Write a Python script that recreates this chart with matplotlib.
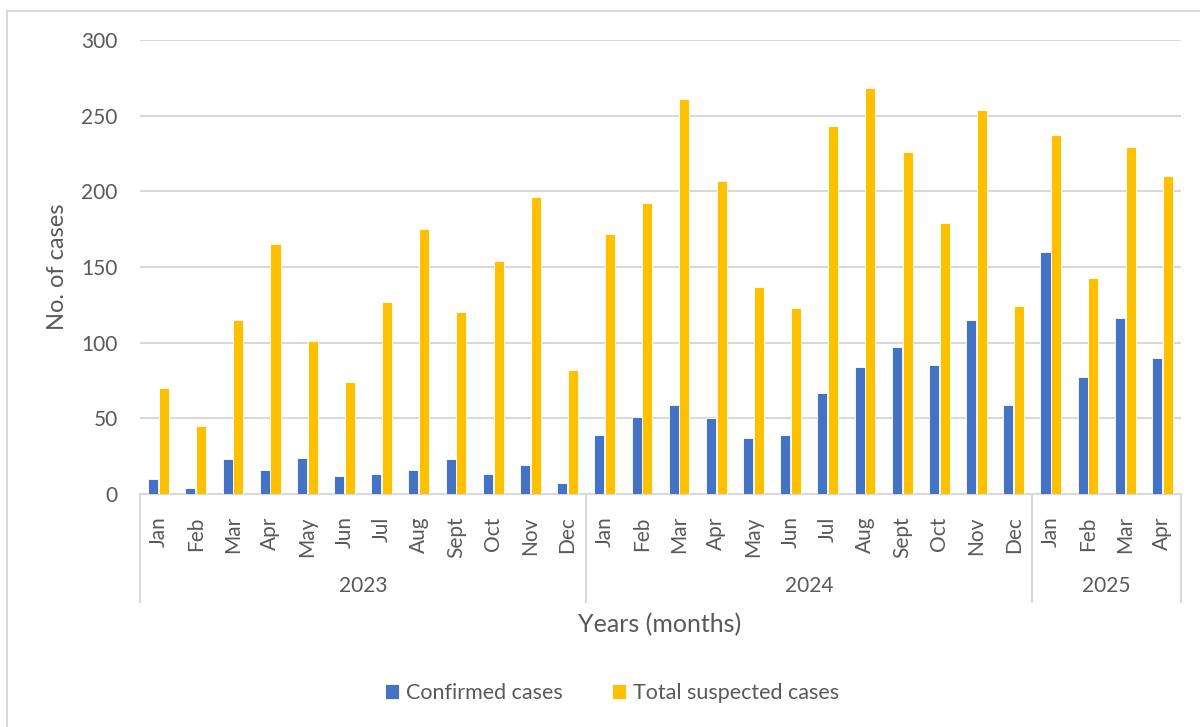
import numpy as np
import matplotlib.pyplot as plt
from matplotlib.patches import Rectangle

plt.rcParams['font.family'] = ['Lato', 'DejaVu Sans']

months = ['Jan', 'Feb', 'Mar', 'Apr', 'May', 'Jun', 'Jul', 'Aug', 'Sept', 'Oct', 'Nov', 'Dec',
          'Jan', 'Feb', 'Mar', 'Apr', 'May', 'Jun', 'Jul', 'Aug', 'Sept', 'Oct', 'Nov', 'Dec',
          'Jan', 'Feb', 'Mar', 'Apr']
years = ['2023', '2024', '2025']
year_counts = [12, 12, 4]

confirmed = [10, 4, 23, 16, 24, 12, 13, 16, 23, 13, 19, 7,
             39, 51, 59, 50, 37, 39, 67, 84, 97, 85, 115, 59,
             160, 77, 116, 90]
suspected = [70, 45, 115, 165, 101, 74, 127, 175, 120, 154, 196, 82,
             172, 192, 261, 207, 137, 123, 243, 268, 226, 179, 254, 124,
             237, 143, 229, 210]

blue = '#4472C4'
gold = '#FFC000'
txt = '#595959'
grid = '#D9D9D9'

fig = plt.figure(figsize=(12, 7.27), dpi=100)
ax = fig.add_axes([140/1200, 1 - 494/727, 1041/1200, 454/727])

x = np.arange(len(months))
w = 0.27
ax.bar(x - 0.145, confirmed, w, color=blue, edgecolor='white', linewidth=0.6, label='Confirmed cases', zorder=3)
ax.bar(x + 0.145, suspected, w, color=gold, edgecolor='white', linewidth=0.6, label='Total suspected cases', zorder=3)

ax.set_xlim(-0.5, len(months) - 0.5)
ax.set_ylim(0, 300)
ax.set_yticks(np.arange(0, 301, 50))
ax.yaxis.grid(True, color=grid, linewidth=1.5, zorder=0)
ax.tick_params(axis='y', length=0, pad=16, labelsize=15, labelcolor=txt)

ax.set_xticks(x)
ax.set_xticklabels(months, rotation=90, fontsize=15, color=txt)
ax.tick_params(axis='x', length=0, pad=16)

for s in ['left', 'right', 'top']:
    ax.spines[s].set_visible(False)
ax.spines['bottom'].set_color(grid)
ax.spines['bottom'].set_linewidth(1.5)

# year groups below month labels
trans = ax.get_xaxis_transform()
y_line = (494 - 602) / 454
y_year = (494 - 586) / 454
start = -0.5
ax.plot([start, start], [0, y_line], color=grid, lw=1.5, transform=trans, clip_on=False)
for yr, n in zip(years, year_counts):
    end = start + n
    ax.plot([end, end], [0, y_line], color=grid, lw=1.5, transform=trans, clip_on=False)
    ax.text((start + end) / 2, y_year, yr, transform=trans, ha='center', va='center',
            fontsize=15, color=txt)
    start = end

ax.set_ylabel('No. of cases', fontsize=17, color=txt)
ax.yaxis.set_label_coords(-72/1041, 0.5)
fig.text(660/1200, 1 - 625/727, 'Years (months)', ha='center', va='center', fontsize=18, color=txt)

fig.legend(loc='center', bbox_to_anchor=(612/1200, 1 - 693/727), ncol=2, frameon=False,
           fontsize=15.5, labelcolor=txt, handlelength=0.65, handleheight=0.65,
           handletextpad=0.3, columnspacing=2.3)

fig.patches.append(Rectangle((7/1200, -0.1), 1.2, 1 - 11/727 + 0.1, transform=fig.transFigure,
                             fill=False, edgecolor=grid, linewidth=1.5))

fig.savefig('out.png', dpi=100)
